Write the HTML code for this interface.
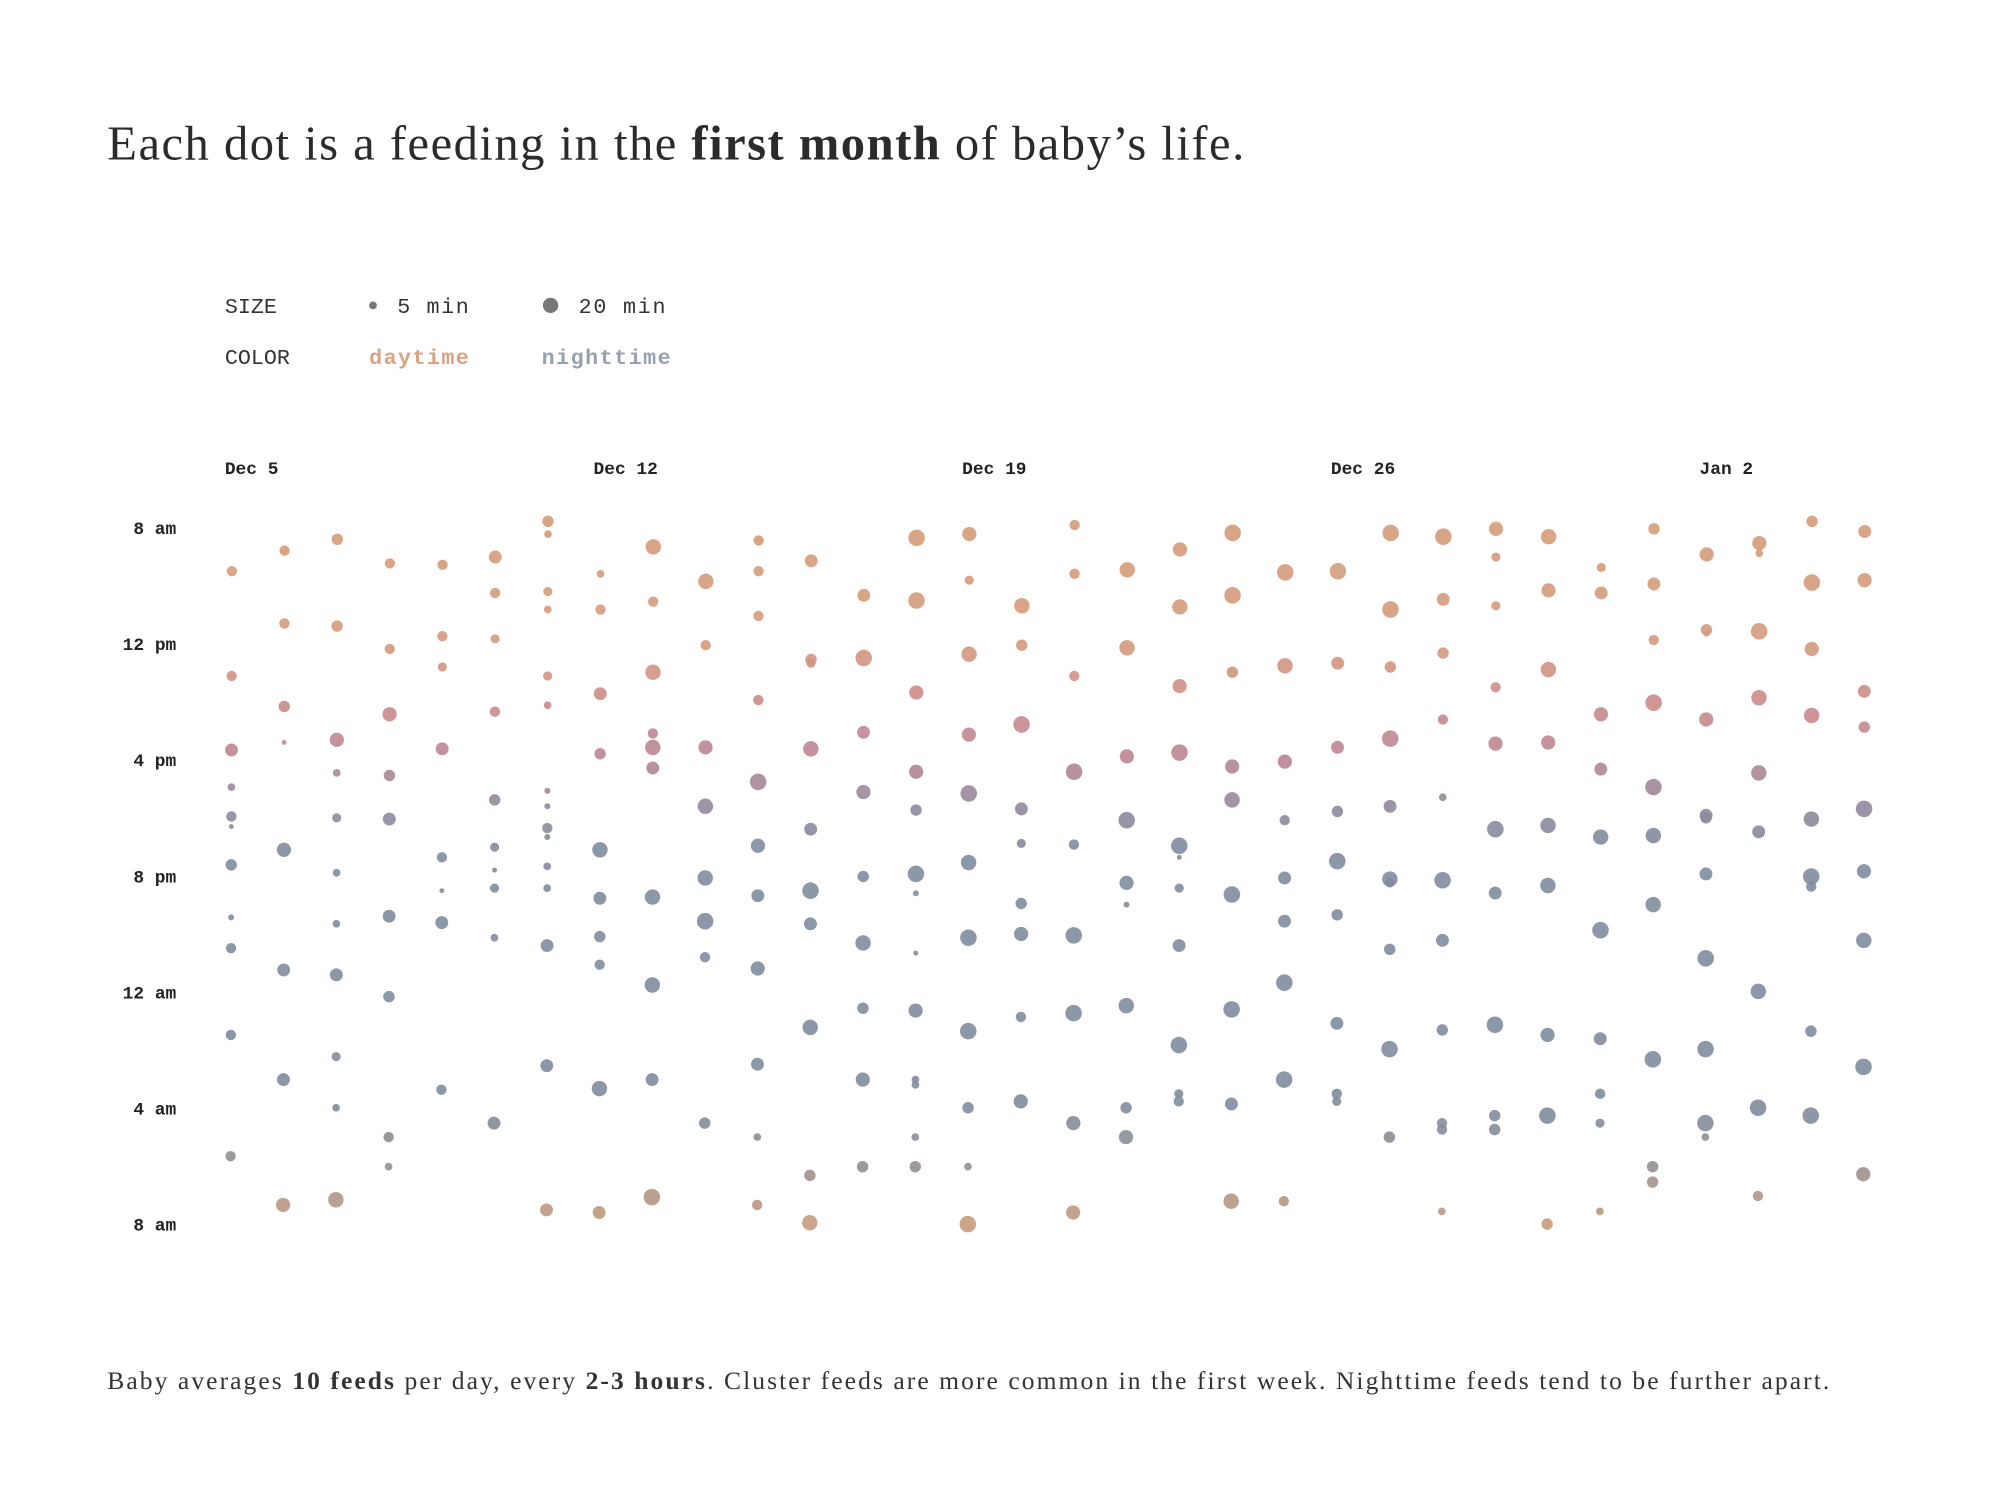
<!DOCTYPE html>
<html><head><meta charset="utf-8">
<style>
html,body{margin:0;padding:0;background:#fff;width:2003px;height:1509px;overflow:hidden}
svg{display:block}
.mono{font-family:"Liberation Mono",monospace}
.serif{font-family:"Liberation Serif",serif}
</style></head><body>
<svg id="chart" width="2003" height="1509" viewBox="0 0 1568 1181" preserveAspectRatio="none" xmlns="http://www.w3.org/2000/svg">
<text class="serif" x="84" y="125" font-size="38" fill="#2b2b2b" textLength="890" lengthAdjust="spacing">Each dot is a feeding in the <tspan font-weight="bold">first month</tspan> of baby’s life.</text>
<g class="mono" font-size="17" fill="#333">
<text x="176" y="245">SIZE</text>
<circle cx="292" cy="239" r="3" fill="#777"/>
<text x="311" y="245" textLength="56" lengthAdjust="spacing">5 min</text>
<circle cx="431" cy="239" r="6" fill="#777"/>
<text x="453" y="245" textLength="68" lengthAdjust="spacing">20 min</text>
<text x="176" y="285">COLOR</text>
<text x="289" y="285" font-weight="bold" fill="#d9a283" textLength="78" lengthAdjust="spacing">daytime</text>
<text x="424" y="285" font-weight="bold" fill="#95a0b0" textLength="101" lengthAdjust="spacing">nighttime</text>
</g>
<g id="axes" class="mono" font-size="14" font-weight="bold" fill="#222"></g>
<g id="dots"></g>
<text class="serif" x="84" y="1087" font-size="20" fill="#333" textLength="1348" lengthAdjust="spacing">Baby averages <tspan font-weight="bold">10 feeds</tspan> per day, every <tspan font-weight="bold">2-3 hours</tspan>. Cluster feeds are more common in the first week. Nighttime feeds tend to be further apart.</text>
</svg>
<script>
// hours after 8am for each feed, per day starting Dec 5
const feedHours = [
[1.50,5.11,7.66,8.94,9.95,10.30,11.62,13.43,14.49,17.48,21.66],
[0.79,3.30,6.16,7.40,11.10,15.24,19.02,23.34],
[0.40,3.39,7.31,8.45,10.00,11.89,13.65,15.41,18.23,19.99,23.16],
[1.23,4.18,6.43,8.54,10.04,13.39,16.16,21.00,22.02],
[1.28,3.74,4.80,7.62,11.36,12.51,13.61,19.37],
[1.01,2.25,3.83,6.34,9.38,11.01,11.80,12.42,14.13,20.52],
[-0.22,0.22,2.20,2.82,5.11,6.12,9.07,9.60,10.35,10.66,11.67,12.42,14.40,18.54,23.51],
[1.59,2.82,5.72,7.79,11.10,12.77,14.09,15.06,19.33,23.60],
[0.66,2.55,4.98,7.09,7.57,8.28,12.73,15.76,19.02,23.07],
[1.85,4.05,7.57,9.60,12.07,13.56,14.80,20.52],
[0.44,1.50,3.04,5.94,8.76,10.96,12.68,15.19,18.49,21.00,23.34],
[1.14,4.54,4.67,7.62,10.39,12.51,13.65,17.22,22.32,23.95],
[2.33,4.49,7.05,9.11,12.02,14.31,16.56,19.02,22.02],
[0.35,2.51,5.68,8.41,9.73,11.93,12.60,14.66,16.64,19.02,19.20,21.00,22.02],
[0.22,1.81,4.36,7.13,9.16,11.54,14.13,17.35,19.99,22.02,24.00],
[2.69,4.05,6.78,9.69,10.88,12.95,14.00,16.86,19.77],
[-0.09,1.59,5.11,8.41,10.92,14.05,16.73,20.52,23.60],
[1.45,4.14,7.88,10.08,12.24,12.99,16.47,19.99,21.00],
[0.75,2.73,5.46,7.75,10.96,11.36,12.42,14.40,17.83,19.51,19.77],
[0.18,2.33,4.98,8.23,9.38,12.64,16.60,19.86,23.21],
[1.54,4.76,8.06,10.08,12.07,13.56,15.68,19.02,23.21],
[1.50,4.67,7.57,9.78,11.49,13.34,17.08,19.51,19.77],
[0.18,2.82,4.80,7.27,9.60,12.11,12.24,14.53,17.97,21.00],
[0.31,2.47,4.32,6.61,9.29,12.15,14.22,17.31,20.52,20.74,23.56],
[0.04,1.01,2.69,5.50,7.44,10.39,12.59,17.13,20.26,20.74],
[0.31,2.16,4.89,7.40,10.26,12.33,17.48,20.26,24.00],
[1.37,2.25,6.43,8.32,10.66,13.87,17.61,19.51,20.52,23.56],
[0.04,1.94,3.87,6.03,8.94,10.61,12.99,18.32,22.02,22.55],
[0.92,3.52,3.65,6.61,9.91,10.00,11.93,14.84,17.97,20.52,21.00],
[0.53,0.88,3.57,5.86,8.45,10.48,15.98,19.99,23.03],
[-0.22,1.89,4.18,6.47,10.04,12.02,12.37,17.35,20.26],
[0.13,1.81,5.64,6.87,9.69,11.84,14.22,18.58,22.28]
];
// durations in minutes, matching feedHours
const feedMinutes = [
[9,9,14,5,9,2,11,3,9,9,9],
[9,9,11,2,17,14,14,17],
[11,11,17,5,7,5,5,14,7,5,20],
[9,9,17,11,14,14,11,9,5],
[9,9,7,14,9,2,14,9],
[14,9,7,9,11,7,2,7,5,14],
[11,5,7,5,7,5,3,3,9,3,5,5,14,14,14],
[5,9,14,11,20,14,11,9,20,14],
[20,9,20,9,20,14,20,20,14,23],
[20,9,17,20,20,23,9,11],
[9,9,9,9,23,17,14,17,14,5,9],
[14,11,7,20,14,23,14,20,11,20],
[14,23,14,17,11,20,11,17,11],
[23,23,17,17,11,23,3,2,17,5,5,5,11],
[17,7,20,17,23,20,23,23,11,5,23],
[20,11,23,14,7,11,17,9,17],
[9,9,9,23,9,23,23,17,17],
[20,20,17,23,17,3,20,11,17],
[17,20,17,23,23,2,7,14,23,7,9],
[23,23,11,17,20,23,23,14,20],
[23,20,17,9,14,14,23,23,9],
[23,14,14,11,23,11,14,9,7],
[23,23,11,23,14,20,7,11,23,11],
[23,14,11,9,5,23,14,11,9,9,5],
[17,7,7,9,17,23,14,23,11,11],
[20,17,20,17,20,20,17,23,11],
[7,14,17,14,20,23,14,9,7,5],
[11,14,9,23,23,20,20,23,11,11],
[17,11,3,17,14,11,14,23,23,23,5],
[17,5,23,20,20,14,20,23,9],
[11,23,17,20,20,23,9,11,23],
[14,17,14,11,23,17,20,23,17]
];
const dateLabels = ["Dec 5","Dec 12","Dec 19","Dec 26","Jan 2"];
const hourLabels = ["8 am","12 pm","4 pm","8 pm","12 am","4 am","8 am"];

const NS="http://www.w3.org/2000/svg";
const x0=181, dayW=41.23, y0=413, hourH=22.71;
const xScale=d=>x0+d*dayW;
const yScale=h=>y0+h*hourH;
const rScale=m=>1.35*Math.sqrt(m);
const stops=[[-1,[212,156,120]],[4,[212,155,125]],[6,[204,140,138]],[8,[185,133,148]],[9.5,[146,138,156]],[11,[127,140,157]],[20,[127,140,157]],[22,[150,143,145]],[24,[200,156,124]],[25,[200,156,124]]];
function color(h){
  for(let i=0;i<stops.length-1;i++){
    const a=stops[i],b=stops[i+1];
    if(h>=a[0]&&h<=b[0]){const t=(h-a[0])/(b[0]-a[0]);
      const c=a[1].map((v,k)=>Math.round(v+(b[1][k]-v)*t));return `rgb(${c})`;}
  }
  return "rgb(127,140,157)";
}
const axes=document.getElementById('axes');
dateLabels.forEach((t,i)=>{
  const el=document.createElementNS(NS,'text');
  
  
  el.setAttribute('x',xScale(i*7)-5);el.setAttribute('y',371);el.textContent=t;axes.appendChild(el);
});
hourLabels.forEach((t,i)=>{
  const el=document.createElementNS(NS,'text');
  
  
  el.setAttribute('x',138);el.setAttribute('y',yScale(i*4)+5);el.setAttribute('text-anchor','end');el.textContent=t;axes.appendChild(el);
});
const dots=document.getElementById('dots');
feedHours.forEach((day,d)=>{
  day.forEach((h,j)=>{
    const c=document.createElementNS(NS,'circle');
    
    
    c.setAttribute('cx',xScale(d)+0.6-h*0.05);
    c.setAttribute('cy',yScale(h));
    c.setAttribute('r',rScale(feedMinutes[d][j]));
    c.setAttribute('fill',color(h));
    c.setAttribute('fill-opacity','0.9');
    dots.appendChild(c);
  });
});
</script>
</body></html>
